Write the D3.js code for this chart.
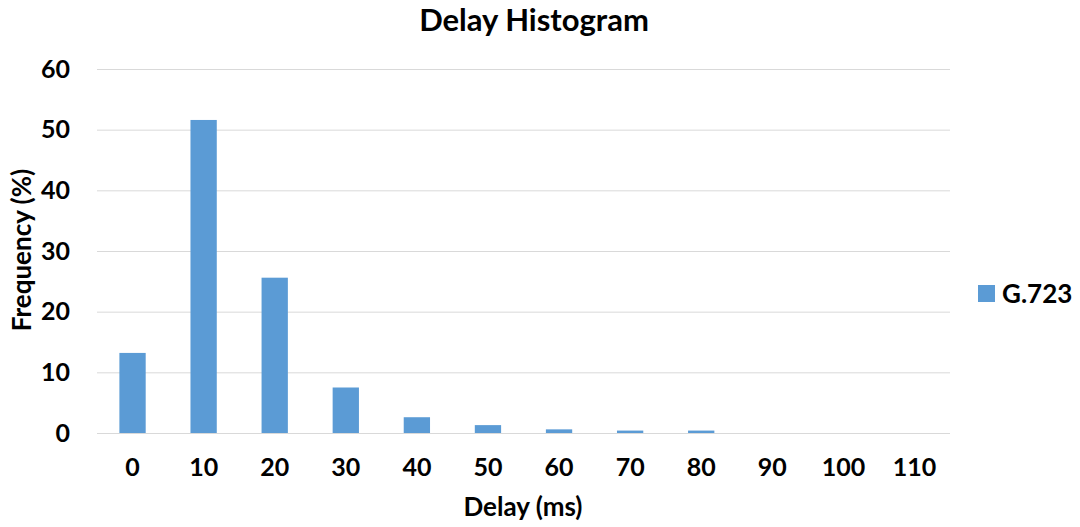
<!DOCTYPE html>
<html>
<head>
<meta charset="utf-8">
<script src="https://cdn.jsdelivr.net/npm/d3@7"></script>
<style>
  body { margin: 0; background: #fff; }
  text { font-family: Lato, "Open Sans", sans-serif; font-weight: bold; fill: #000; }
</style>
</head>
<body>
<div class="chart"></div>
<script>
// delay bins (ms) and frequency (%)
const categories = ['0', '10', '20', '30', '40', '50', '60', '70', '80', '90', '100', '110'];
const g723 = [13.2, 51.6, 25.6, 7.5, 2.6, 1.3, 0.6, 0.4, 0.4, 0, 0, 0];
const yTicks = [0, 10, 20, 30, 40, 50, 60];

const width = 1080,
  height = 527,
  margin = { top: 69, right: 130, bottom: 94, left: 97 },
  innerWidth = width - margin.left - margin.right,
  innerHeight = height - margin.top - margin.bottom;

const svg = d3.select('.chart')
  .append('svg')
  .attr('width', width)
  .attr('height', height);

const g = svg.append('g')
  .attr('transform', `translate(${margin.left}, ${margin.top})`);

const x = d3.scaleBand()
  .domain(categories)
  .range([0, innerWidth])
  .paddingInner(0.63)
  .paddingOuter(0.315);

const y = d3.scaleLinear()
  .domain([0, 60])
  .range([innerHeight, 0]);

// gridlines
g.append('g')
  .selectAll('line')
  .data(yTicks)
  .enter()
  .append('line')
  .attr('x1', 0)
  .attr('x2', innerWidth)
  .attr('y1', d => y(d) + 0.5)
  .attr('y2', d => y(d) + 0.5)
  .attr('stroke', '#d9d9d9')
  .attr('stroke-width', 1);

g.selectAll('.bar')
  .data(g723)
  .enter()
  .append('rect')
  .attr('class', 'bar')
  .attr('x', (d, i) => x(categories[i]))
  .attr('width', x.bandwidth())
  .attr('y', d => y(d))
  .attr('height', d => innerHeight - y(d))
  .attr('fill', '#5b9bd5');

// axes
const yAxis = g.append('g')
  .call(d3.axisLeft(y).tickValues(yTicks).tickSize(0).tickPadding(27));
yAxis.select('.domain').remove();
yAxis.selectAll('text').attr('font-size', 25).attr('font-family', null);

const xAxis = g.append('g')
  .attr('transform', `translate(0, ${innerHeight})`)
  .call(d3.axisBottom(x).tickSize(0).tickPadding(25));
xAxis.select('.domain').remove();
xAxis.selectAll('text').attr('font-size', 25).attr('font-family', null);

// titles
svg.append('text')
  .attr('x', 534)
  .attr('y', 31)
  .attr('text-anchor', 'middle')
  .attr('font-size', 31)
  .text('Delay Histogram');

svg.append('text')
  .attr('x', 523)
  .attr('y', 516)
  .attr('text-anchor', 'middle')
  .attr('font-size', 26)
  .text('Delay (ms)');

svg.append('text')
  .attr('transform', `translate(31, ${margin.top + innerHeight / 2 - 1}) rotate(-90)`)
  .attr('text-anchor', 'middle')
  .attr('font-size', 26)
  .text('Frequency (%)');

// legend
const legend = svg.append('g')
  .attr('transform', 'translate(978, 285)');
legend.append('rect')
  .attr('width', 17)
  .attr('height', 17)
  .attr('fill', '#5b9bd5');
legend.append('text')
  .attr('x', 24)
  .attr('y', 18)
  .attr('font-size', 26)
  .text('G.723');
</script>
</body>
</html>
